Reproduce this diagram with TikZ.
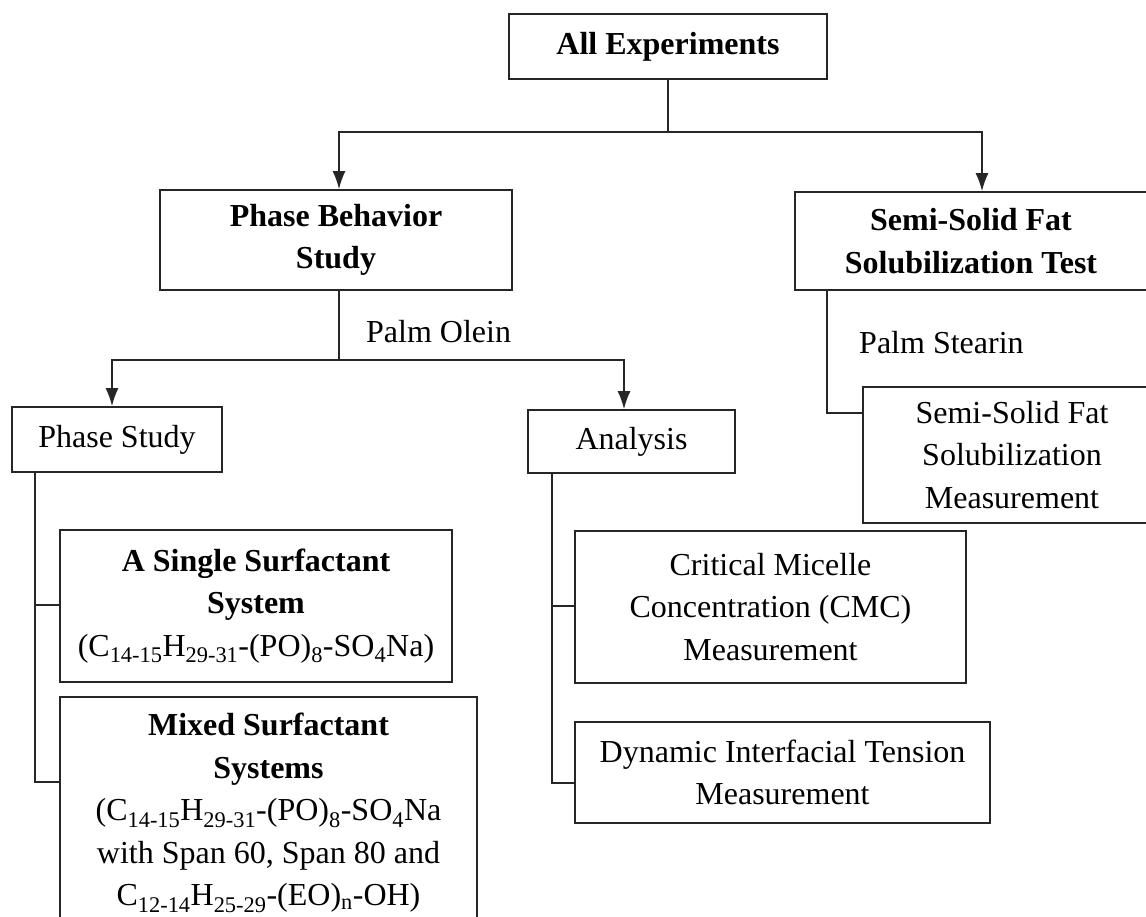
\documentclass[tikz,border=0pt]{standalone}
\usepackage{fontspec}
\setmainfont{Liberation Serif}
\usetikzlibrary{arrows.meta}
\tikzset{
  box/.style={draw=black!85, line width=1.8pt, inner sep=0pt, align=center,
    font=\fontsize{32}{42.5}\selectfont},
  bbox/.style={box, font=\fontsize{32}{42.5}\selectfont\bfseries},
  lbl/.style={inner sep=0pt, anchor=west, font=\fontsize{32}{42.5}\selectfont},
  conn/.style={draw=black!85, line width=1.5pt},
  arr/.style={conn, -{Latex[length=18pt,width=13pt]}}
}
\begin{document}
\begin{tikzpicture}[x=1pt,y=-1pt]
\useasboundingbox[fill=white] (0,0) rectangle (1146,917);
\clip (0,0) rectangle (1146,917);
% boxes
\node[bbox, minimum width=318pt, minimum height=65pt] (all) at (668,46.5) {All Experiments};
\node[bbox, minimum width=352pt, minimum height=100pt] (pbs) at (336,240) {Phase Behavior\\Study};
\node[bbox, minimum width=352pt, minimum height=98pt] (sst) at (971,241) {Semi-Solid Fat\\Solubilization Test};
\node[box, minimum width=210pt, minimum height=65pt] (ps) at (117,439.5) {Phase Study};
\node[box, minimum width=207pt, minimum height=63pt] (an) at (631.5,441.5) {Analysis};
\node[box, minimum width=298pt, minimum height=136pt] (ssm) at (1012,455) {Semi-Solid Fat\\Solubilization\\Measurement};
\node[box, minimum width=392pt, minimum height=152pt] (ssys) at (256,606) {\textbf{A Single Surfactant}\\\textbf{System}\\(C\textsubscript{14-15}H\textsubscript{29-31}-(PO)\textsubscript{8}-SO\textsubscript{4}Na)};
\node[box, minimum width=417pt, minimum height=232pt] (mix) at (268.5,813) {\textbf{Mixed Surfactant}\\\textbf{Systems}\\(C\textsubscript{14-15}H\textsubscript{29-31}-(PO)\textsubscript{8}-SO\textsubscript{4}Na\\with Span 60, Span 80 and\\C\textsubscript{12-14}H\textsubscript{25-29}-(EO)\textsubscript{n}-OH)};
\node[box, minimum width=391pt, minimum height=152pt] (cmc) at (770.5,607) {Critical Micelle\\Concentration (CMC)\\Measurement};
\node[box, minimum width=415pt, minimum height=101pt] (dit) at (782.5,772.5) {Dynamic Interfacial Tension\\Measurement};
% labels
\node[lbl] (po) at (366,332) {Palm Olein};
\node[lbl] (pst) at (859,343) {Palm Stearin};
% junction coordinates
\coordinate (hl) at (339,132);
\coordinate (hr) at (982,132);
\coordinate (pl) at (339,360);
\coordinate (psl) at (112,360);
\coordinate (anl) at (624,360);
\coordinate (sb) at (827,413);
\coordinate (pv) at (35,605);
\coordinate (pv2) at (35,782);
\coordinate (av) at (552,606);
\coordinate (av2) at (552,783);
% connectors
\draw[conn] (all.south) -- (all.south |- hl);
\draw[arr] (all.south |- hl) -| (hl |- pbs.north);
\draw[arr] (all.south |- hl) -| (hr |- sst.north);
\draw[conn] (pbs.south -| pl) -- (pl);
\draw[arr] (pl) -| (psl |- ps.north);
\draw[arr] (pl) -| (anl |- an.north);
\draw[conn] (sst.south -| sb) |- (ssm.west |- sb);
\draw[conn] (ps.south -| pv) |- (ssys.west |- pv);
\draw[conn] (ps.south -| pv) |- (mix.west |- pv2);
\draw[conn] (an.south -| av) |- (cmc.west |- av);
\draw[conn] (an.south -| av) |- (dit.west |- av2);
\end{tikzpicture}
\end{document}
